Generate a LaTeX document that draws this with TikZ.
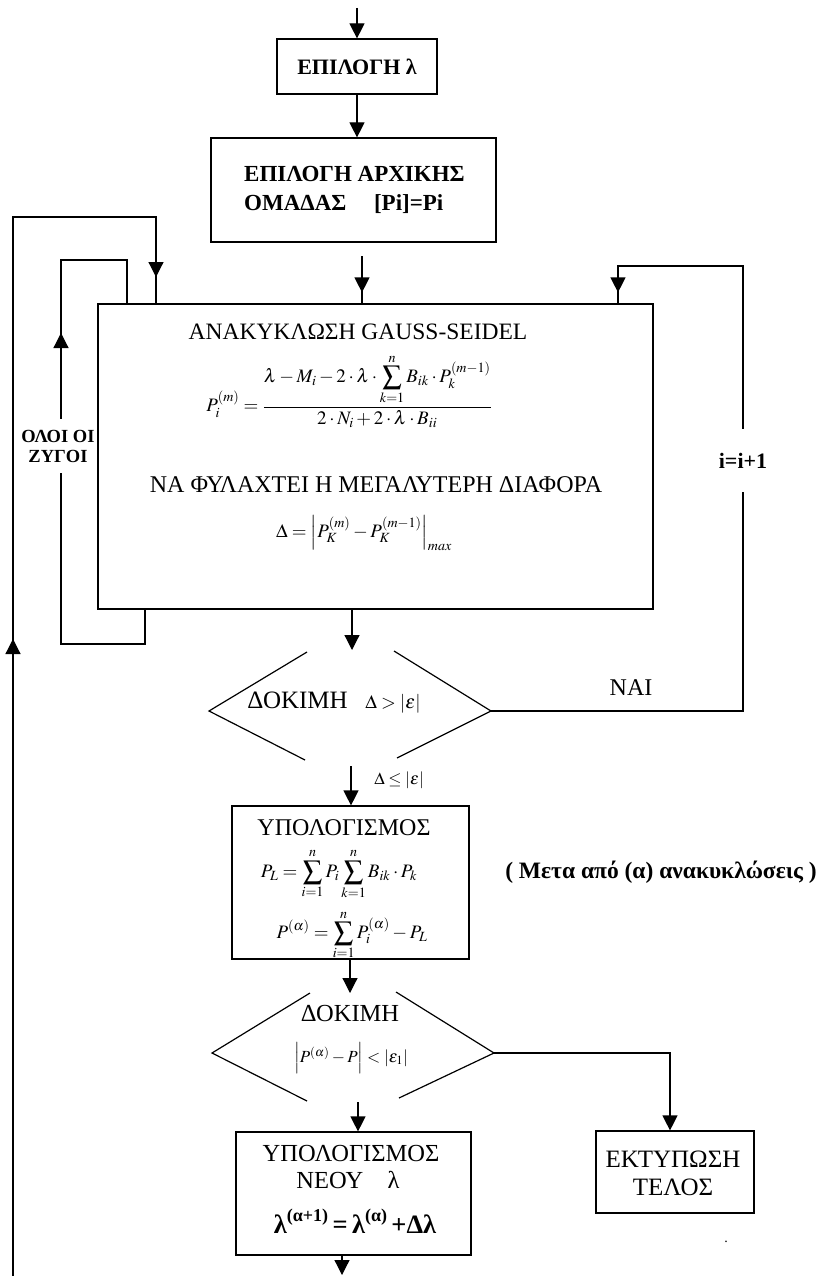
\documentclass[tikz,border=0pt]{standalone}
\usepackage{mathptmx}
\usepackage{fontspec}
\setmainfont{Liberation Serif}
\usetikzlibrary{arrows.meta,calc}
\tikzset{
  ln/.style={line width=1.2pt, draw=black},
  arr/.style={ln, -{Triangle[width=15pt,length=15pt]}},
  boxnode/.style={draw, line width=1.2pt, inner sep=0pt},
  txt/.style={inner sep=0pt, align=center},
  gapnode/.style={fill=white, inner sep=0pt, align=center}
}
\newcommand{\supx}[1]{\raisebox{0.45em}{\fontsize{18}{20}\selectfont #1}}
\begin{document}
\begin{tikzpicture}[x=1pt,y=-1pt]
\useasboundingbox (0,0) rectangle (820,1276);
% boxes
\node[boxnode, minimum width=160pt, minimum height=55pt] (b1) at (357,66.5) {};
\node[txt, font=\bfseries\fontsize{22}{24}\selectfont] (b1t) at (357,67) {ΕΠΙΛΟΓΗ λ};
\node[boxnode, minimum width=285pt, minimum height=104pt] (b2) at (353.5,190) {};
\node[txt, anchor=west, align=left, font=\bfseries\fontsize{23}{29}\selectfont] (b2t) at (244,190) {ΕΠΙΛΟΓΗ ΑΡΧΙΚΗΣ\\ΟΜΑΔΑΣ\hspace{1.2em}[Pi]=Pi};
\node[boxnode, minimum width=555pt, minimum height=305pt] (b3) at (375.5,456.5) {};
\node[txt, font=\fontsize{23.5}{26}\selectfont] (b3t) at (358,332) {ΑΝΑΚΥΚΛΩΣΗ GAUSS-SEIDEL};
\node[txt, font=\fontsize{19}{22}\selectfont] (b3f) at (349,391) {$\displaystyle P_i^{(m)} = \frac{\displaystyle\lambda - M_i - 2\cdot\lambda\cdot\sum_{k=1}^{n} B_{ik}\cdot P_k^{(m-1)}}{2\cdot N_i + 2\cdot\lambda\cdot B_{ii}}$};
\node[txt, font=\fontsize{24}{26}\selectfont] (b3m) at (376,485) {ΝΑ ΦΥΛΑΧΤΕΙ Η ΜΕΓΑΛΥΤΕΡΗ ΔΙΑΦΟΡΑ};
\node[txt, font=\fontsize{19}{22}\selectfont] (b3d) at (364,533) {$\Delta = \left|P_K^{(m)} - P_K^{(m-1)}\right|_{max}$};
% diamond 1
\coordinate (d1l) at (209,711);
\coordinate (d1r) at (491,711);
\draw[ln] (307,652) -- (d1l) -- (305,760);
\draw[ln] (394,651) -- (d1r) -- (397,758);
\node[txt, font=\fontsize{25}{27}\selectfont] (d1t) at (334,703) {ΔΟΚΙΜΗ\hspace{0.7em}{\fontsize{19}{21}\selectfont$\Delta > |\varepsilon|$}};
% box 4
\node[boxnode, minimum width=237pt, minimum height=153pt] (b4) at (350.5,882.5) {};
\node[txt, font=\fontsize{24}{26}\selectfont] (b4t) at (344,828) {ΥΠΟΛΟΓΙΣΜΟΣ};
\node[txt, font=\fontsize{19}{22}\selectfont] (b4f1) at (339,874) {$\displaystyle P_L = \sum_{i=1}^{n} P_i \sum_{k=1}^{n} B_{ik}\cdot P_k$};
\node[txt, font=\fontsize{19}{22}\selectfont] (b4f2) at (352,935) {$\displaystyle P^{(\alpha)} = \sum_{i=1}^{n} P_i^{(\alpha)} - P_L$};
\node[txt, font=\bfseries\fontsize{23.5}{26}\selectfont] (note) at (661,872) {( Μετα από (α) ανακυκλώσεις )};
% diamond 2
\coordinate (d2l) at (212,1053);
\coordinate (d2r) at (494,1053);
\draw[ln] (310,993) -- (d2l) -- (307,1101);
\draw[ln] (396,992) -- (d2r) -- (399,1098);
\node[txt, font=\fontsize{24.5}{26}\selectfont] (d2t) at (350,1013) {ΔΟΚΙΜΗ};
\node[txt, font=\fontsize{17}{20}\selectfont] (d2f) at (351,1058) {$\left|P^{(\alpha)} - P\right| < \left|\varepsilon_1\right|$};
% box 5
\node[boxnode, minimum width=235pt, minimum height=123pt] (b5) at (353.5,1193.5) {};
\node[txt, font=\fontsize{24.5}{26}\selectfont] (b5t) at (351,1153) {ΥΠΟΛΟΓΙΣΜΟΣ};
\node[txt, font=\fontsize{24.5}{26}\selectfont] (b5n) at (348,1180) {ΝΕΟΥ\hspace{1em}λ};
\node[txt, font=\bfseries\fontsize{26.5}{28}\selectfont] (b5f) at (355,1221) {λ\supx{(α+1)}\,=\,λ\supx{(α)}\,+Δλ};
% box 6
\node[boxnode, minimum width=158pt, minimum height=82pt] (b6) at (675,1172) {};
\node[txt, font=\fontsize{25}{28}\selectfont] (b6t) at (673,1173) {ΕΚΤΥΠΩΣΗ\\ΤΕΛΟΣ};
\node[txt, font=\fontsize{14}{16}\selectfont] (dot) at (726,1242) {.};
% main arrows
\coordinate (top) at (357,8);
\draw[arr] (top) -- (b1.north);
\coordinate (a12) at (b1.south);
\draw[arr] (a12) -- (a12 |- b2.north);
\coordinate (a23) at (362,256);
\coordinate (a23e) at (a23 |- b3.north);
\draw[ln] (a23) -- (a23e);
\draw[arr] (a23) -- ($(a23e)+(0,-11)$);
\coordinate (d1top) at (352,650);
\coordinate (b3s) at (d1top |- b3.south);
\draw[arr] (b3s) -- (d1top);
\coordinate (d1bot) at (351,766);
\draw[arr] (d1bot) -- (d1bot |- b4.north);
\node[txt, font=\fontsize{17}{20}\selectfont] (le) at (399,780) {$\Delta \le |\varepsilon|$};
\coordinate (d2top) at (350,993);
\coordinate (b4s) at (d2top |- b4.south);
\draw[arr] (b4s) -- (d2top);
\coordinate (d2bot) at (358,1102);
\draw[arr] (d2bot) -- (d2bot |- b5.north);
\coordinate (bot) at (342,1275);
\coordinate (b5s) at (bot |- b5.south);
\draw[arr] (b5s) -- (bot);
\coordinate (c6) at (670,1053);
\draw[arr] (d2r) -- (c6) -- (c6 |- b6.north);
% right loop
\coordinate (rl1) at (743,711);
\coordinate (rl2) at (743,266);
\coordinate (rl3) at (618,266);
\coordinate (rl4) at (rl3 |- b3.north);
\draw[ln] (d1r) -- (rl1) -- (rl2) -- (rl3) -- (rl4);
\draw[arr] (rl3) -- ($(rl4)+(0,-11)$);
\node[gapnode, minimum height=63pt, minimum width=52pt, font=\bfseries\fontsize{22}{24}\selectfont] (ii) at (743,460.5) {i=i+1};
\node[txt, font=\fontsize{24}{26}\selectfont] (nai) at (631,688) {ΝΑΙ};
% outer left loop
\coordinate (ol0) at (13,1276);
\coordinate (ol1) at (13,217);
\coordinate (ol2) at (156,217);
\coordinate (ol3) at (ol2 |- b3.north);
\draw[ln] (ol0) -- (ol1) -- (ol2) -- (ol3);
\draw[arr] (ol0) -- (13,639);
\draw[arr] (ol2) -- (156,277);
% inner loop
\coordinate (il1) at (145,644);
\coordinate (il0) at (il1 |- b3.south);
\coordinate (il2) at (61,644);
\coordinate (il3) at (61,260);
\coordinate (il4) at (127,260);
\coordinate (il5) at (il4 |- b3.north);
\draw[ln] (il0) -- (il1) -- (il2) -- (il3) -- (il4) -- (il5);
\draw[arr] (il2) -- (61,333);
\node[gapnode, minimum height=54pt, font=\bfseries\fontsize{18.5}{20}\selectfont] (zyg) at (58,446) {ΟΛΟΙ ΟΙ\\ΖΥΓΟΙ};
\end{tikzpicture}
\end{document}
